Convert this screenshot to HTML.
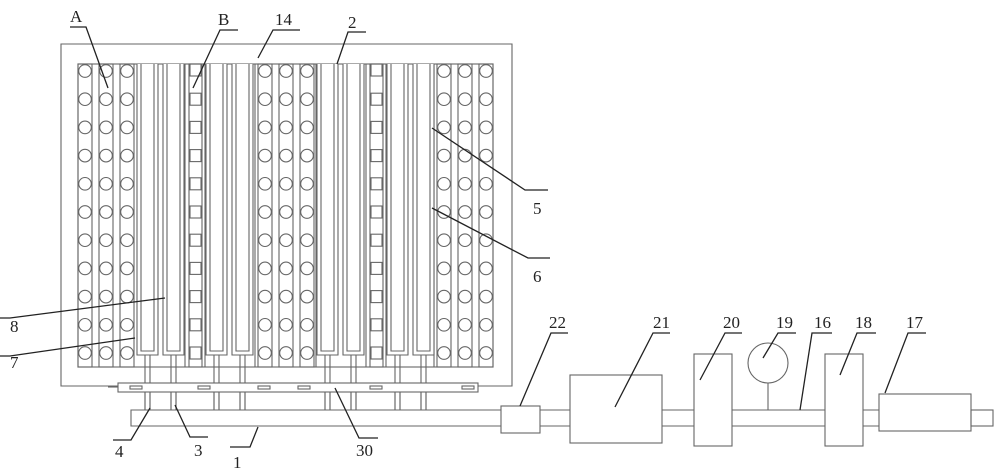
<!DOCTYPE html>
<html><head><meta charset="utf-8"><style>
html,body{margin:0;padding:0;background:#fff;width:1000px;height:473px;overflow:hidden}
svg{display:block}
text{font-family:"Liberation Serif",serif;font-size:17px;fill:#222}
</style></head><body>
<svg width="1000" height="473" viewBox="0 0 1000 473" xmlns="http://www.w3.org/2000/svg">
<defs>
<g id="ccol" fill="none" stroke="#666" stroke-width="1.1">
<circle cx="0" cy="71" r="6.3"/><circle cx="0" cy="99.2" r="6.3"/><circle cx="0" cy="127.4" r="6.3"/><circle cx="0" cy="155.6" r="6.3"/><circle cx="0" cy="183.8" r="6.3"/><circle cx="0" cy="212" r="6.3"/><circle cx="0" cy="240.2" r="6.3"/><circle cx="0" cy="268.4" r="6.3"/><circle cx="0" cy="296.6" r="6.3"/><circle cx="0" cy="324.8" r="6.3"/><circle cx="0" cy="353" r="6.3"/>
</g>
<g id="scol" fill="none" stroke="#666" stroke-width="1.1">
<rect x="0" y="64" width="11" height="12"/><rect x="0" y="93.2" width="11" height="12"/><rect x="0" y="121.4" width="11" height="12"/><rect x="0" y="149.6" width="11" height="12"/><rect x="0" y="177.8" width="11" height="12"/><rect x="0" y="206" width="11" height="12"/><rect x="0" y="234.2" width="11" height="12"/><rect x="0" y="262.4" width="11" height="12"/><rect x="0" y="290.6" width="11" height="12"/><rect x="0" y="318.8" width="11" height="12"/><rect x="0" y="347" width="11" height="12"/>
</g>
<g id="tube" fill="none" stroke="#666" stroke-width="1.1">
<path d="M0,64 V355 H21 V64" fill="#fff"/>
<path d="M4,64 V351 H17 V64"/>
<path d="M8,355 V410 M13,355 V410"/>
</g>
</defs>
<g fill="none" stroke="#666" stroke-width="1.1">
<path d="M118,386 L61,386 L61,44 L512,44 L512,386 L478,386"/>
<rect x="78" y="64" width="415" height="303"/>
<rect x="78" y="64" width="14" height="303"/>
<rect x="99" y="64" width="14" height="303"/>
<rect x="120" y="64" width="14" height="303"/>
<rect x="258" y="64" width="14" height="303"/>
<rect x="279" y="64" width="14" height="303"/>
<rect x="300" y="64" width="14" height="303"/>
<rect x="437" y="64" width="14" height="303"/>
<rect x="458" y="64" width="14" height="303"/>
<rect x="479" y="64" width="14" height="303"/>
<rect x="189" y="64" width="13" height="303"/>
<rect x="370" y="64" width="13" height="303"/>
<line x1="185" y1="64" x2="185" y2="367"/>
<line x1="205" y1="64" x2="205" y2="367"/>
<line x1="255" y1="64" x2="255" y2="367"/>
<line x1="316" y1="64" x2="316" y2="367"/>
<line x1="366" y1="64" x2="366" y2="367"/>
<line x1="386" y1="64" x2="386" y2="367"/>
<line x1="434" y1="64" x2="434" y2="367"/>
</g>
<use href="#ccol" x="85"/><use href="#ccol" x="106"/><use href="#ccol" x="127"/>
<use href="#ccol" x="265"/><use href="#ccol" x="286"/><use href="#ccol" x="307"/>
<use href="#ccol" x="444"/><use href="#ccol" x="465"/><use href="#ccol" x="486"/>
<use href="#scol" x="190"/><use href="#scol" x="371"/>
<use href="#tube" x="137"/><use href="#tube" x="163"/><use href="#tube" x="206"/><use href="#tube" x="232"/>
<use href="#tube" x="317"/><use href="#tube" x="343"/><use href="#tube" x="387"/><use href="#tube" x="413"/>
<g fill="none" stroke="#666" stroke-width="1.1">
<rect x="118" y="383" width="360" height="9" fill="#fff"/>
<line x1="108" y1="387" x2="118" y2="387"/>
<rect x="130" y="386" width="12" height="3"/><rect x="198" y="386" width="12" height="3"/><rect x="258" y="386" width="12" height="3"/><rect x="298" y="386" width="12" height="3"/><rect x="370" y="386" width="12" height="3"/><rect x="462" y="386" width="12" height="3"/>
<line x1="145" y1="392" x2="145" y2="410"/><line x1="150" y1="392" x2="150" y2="410"/>
<line x1="171" y1="392" x2="171" y2="410"/><line x1="176" y1="392" x2="176" y2="410"/>
<line x1="214" y1="392" x2="214" y2="410"/><line x1="219" y1="392" x2="219" y2="410"/>
<line x1="240" y1="392" x2="240" y2="410"/><line x1="245" y1="392" x2="245" y2="410"/>
<line x1="325" y1="392" x2="325" y2="410"/><line x1="330" y1="392" x2="330" y2="410"/>
<line x1="351" y1="392" x2="351" y2="410"/><line x1="356" y1="392" x2="356" y2="410"/>
<line x1="395" y1="392" x2="395" y2="410"/><line x1="400" y1="392" x2="400" y2="410"/>
<line x1="421" y1="392" x2="421" y2="410"/><line x1="426" y1="392" x2="426" y2="410"/>
<path d="M501,410 L131,410 L131,426 L501,426"/>
<path d="M540,410 H570 M662,410 H694 M732,410 H825 M863,410 H879 M540,426 H570 M662,426 H694 M732,426 H825 M863,426 H879"/>
<rect x="501" y="406" width="39" height="27" fill="#fff"/>
<rect x="570" y="375" width="92" height="68"/>
<rect x="694" y="354" width="38" height="92"/>
<circle cx="768" cy="363" r="20"/>
<line x1="768" y1="383" x2="768" y2="410"/>
<rect x="825" y="354" width="38" height="92"/>
<rect x="879" y="394" width="92" height="37"/>
<rect x="971" y="410" width="22" height="16"/>
</g>
<g stroke="#222" stroke-width="1.3" fill="none">
<path d="M70,27 H86 L108,88"/>
<path d="M238,30 H220 L193,88"/>
<path d="M300,30 H273 L258,58"/>
<path d="M366,32 H348 L337,64"/>
<path d="M432,128 L525,190 H548"/>
<path d="M432,208 L528,258 H550"/>
<path d="M165,298 L10,318 H0"/>
<path d="M135,338 L10,356 H0"/>
<path d="M150,408 L131,440 H113"/>
<path d="M175,405 L190,437 H208"/>
<path d="M258,427 L250,447 H230"/>
<path d="M335,388 L359,438 H378"/>
<path d="M520,406 L551,333 H568"/>
<path d="M615,407 L653,333 H670"/>
<path d="M700,380 L725,333 H742"/>
<path d="M763,358 L778,333 H796"/>
<path d="M800,410 L812,333 H832"/>
<path d="M840,375 L857,333 H876"/>
<path d="M885,393 L908,333 H926"/>
</g>
<text x="70" y="22">A</text>
<text x="218" y="25">B</text>
<text x="275" y="25">14</text>
<text x="348" y="28">2</text>
<text x="533" y="214">5</text>
<text x="533" y="282">6</text>
<text x="10" y="332">8</text>
<text x="10" y="368">7</text>
<text x="115" y="457">4</text>
<text x="194" y="456">3</text>
<text x="233" y="468">1</text>
<text x="356" y="456">30</text>
<text x="549" y="328">22</text>
<text x="653" y="328">21</text>
<text x="723" y="328">20</text>
<text x="776" y="328">19</text>
<text x="814" y="328">16</text>
<text x="855" y="328">18</text>
<text x="906" y="328">17</text>
</svg>
</body></html>
